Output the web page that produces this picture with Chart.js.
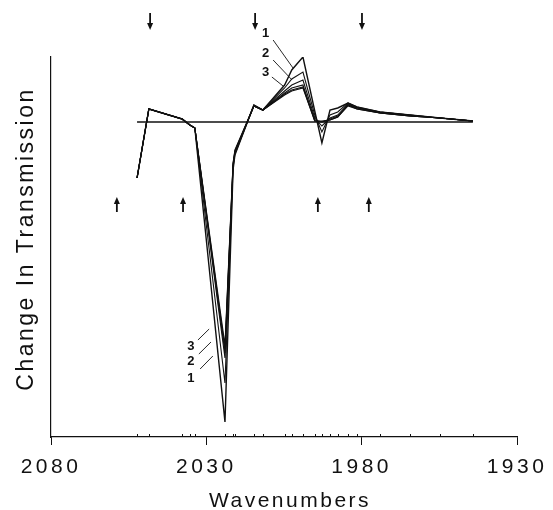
<!DOCTYPE html>
<html>
<head>
<meta charset="utf-8">
<script src="https://cdn.jsdelivr.net/npm/chart.js@4/dist/chart.umd.min.js"></script>
<style>
  body { margin: 0; background: #fff; }
  canvas { display: block; }
</style>
</head>
<body>
<canvas id="spectrum" width="553" height="510"></canvas>
<script>
// sampled wavenumbers (cm-1), shared by every difference spectrum
const wavenumbers = [2052.3, 2048.5, 2037.8, 2035.3, 2033.7, 2024.0, 2021.4, 2020.8, 2014.7, 2011.8,
    2004.8, 2002.5, 1998.9, 1995.1, 1992.8, 1990.2, 1987.7, 1984.4, 1981.5, 1974.1, 1964.5, 1954.8, 1944.2];

// change in transmission (arbitrary units), curve 1 is the largest
const curve1 = [-56, 13, 3, -3, -6, -300, -48, -33, 17, 12, 37, 52, 65, 11, -21, 12, 14, 19, 15, 10, 7, 4, 1];
const curve2 = [-56, 13, 3, -3, -6, -261, -46, -32, 17, 12, 34, 43, 50, 7, -10, 7, 10, 19, 15, 10, 7, 4, 1];
const curve3 = [-56, 13, 3, -3, -6, -236, -44, -31, 16, 12, 31, 37, 42, 4, -4, 4, 7, 18, 14, 10, 7, 4, 1];
const curve4 = [-56, 13, 3, -3, -6, -231, -43, -30, 16, 12, 29, 34, 37, 2, 0, 3, 6, 17, 14, 9, 6, 4, 1];
const curve5 = [-56, 13, 3, -3, -6, -227, -42, -29, 16, 12, 28, 32, 35, 1, 0, 2, 5, 17, 13, 9, 6, 4, 1];
const curve6 = [-56, 13, 3, -3, -6, -223, -41, -28, 16, 12, 27, 31, 34, 1, 1, 2, 5, 16, 13, 9, 6, 4, 1];

const baselineX = [2052.3, 1944.2];
const baselineY = [0, 0];

const xTicks = [2080, 2030, 1980, 1930];

// band markers
const arrowsDown = [2048.1, 2014.3, 1979.9];
const arrowsUp = [2058.8, 2037.5, 1994.1, 1977.7];

const curveLabels = ['1', '2', '3'];

function toPoints(xs, ys) {
    return xs.map((x, i) => ({ x: x, y: ys[i] }));
}

const curves = [curve1, curve2, curve3, curve4, curve5, curve6];
const datasets = curves.map((c, i) => ({
    label: 'Curve ' + (i + 1),
    data: toPoints(wavenumbers, c),
    borderColor: '#111',
    borderWidth: i === 0 ? 1.4 : 1.1,
    pointRadius: 0,
    tension: 0,
    fill: false
}));
datasets.push({
    label: 'Baseline',
    data: toPoints(baselineX, baselineY),
    borderColor: '#111',
    borderWidth: 1.6,
    pointRadius: 0,
    fill: false
});

// annotation layout in data coordinates
const notes = {
    top: { x: 2010.9, y: [89, 69, 50], lines: [[2008.5, 82, 2002.1, 54], [2008.5, 62, 2002.4, 42], [2008.9, 45, 2005.3, 36]] },
    bottom: { x: 2035.0, y: [-256, -239, -224], lines: [[2032.0, -247, 2027.9, -234], [2032.4, -232, 2028.5, -220], [2032.7, -218, 2029.1, -207]] }
};

function drawArrow(ctx, x, yTail, yTip) {
    const dir = yTip > yTail ? 1 : -1;
    ctx.beginPath();
    ctx.moveTo(x, yTail);
    ctx.lineTo(x, yTip - dir * 5);
    ctx.lineWidth = 1.8;
    ctx.stroke();
    ctx.beginPath();
    ctx.moveTo(x, yTip);
    ctx.lineTo(x - 3, yTip - dir * 7);
    ctx.lineTo(x + 3, yTip - dir * 7);
    ctx.closePath();
    ctx.fill();
}

const decorations = {
    id: 'decorations',
    beforeDraw(chart) {
        chart.ctx.letterSpacing = '3.5px';
    },
    beforeDatasetsDraw(chart) {
        chart.ctx.letterSpacing = '0px';
    },
    afterDraw(chart) {
        const ctx = chart.ctx;
        const xs = chart.scales.x;
        const ys = chart.scales.y;
        const area = chart.chartArea;
        ctx.save();
        ctx.strokeStyle = '#111';
        ctx.fillStyle = '#111';

        // small ticks at sampled points
        ctx.lineWidth = 1;
        wavenumbers.forEach(w => {
            const px = Math.round(xs.getPixelForValue(w)) + 0.5;
            ctx.beginPath();
            ctx.moveTo(px, area.bottom);
            ctx.lineTo(px, area.bottom - 3);
            ctx.stroke();
        });

        arrowsDown.forEach(w => drawArrow(ctx, xs.getPixelForValue(w), ys.getPixelForValue(109), ys.getPixelForValue(92)));
        arrowsUp.forEach(w => drawArrow(ctx, xs.getPixelForValue(w), ys.getPixelForValue(-90), ys.getPixelForValue(-75)));

        // curve numbers with pointer lines
        ctx.font = 'bold 13px "Liberation Sans", Arial, sans-serif';
        ctx.textAlign = 'center';
        ctx.textBaseline = 'middle';
        ctx.lineWidth = 0.9;
        [notes.top, notes.bottom].forEach(n => {
            curveLabels.forEach((t, i) => {
                ctx.fillText(t, xs.getPixelForValue(n.x), ys.getPixelForValue(n.y[i]));
                const l = n.lines[i];
                ctx.beginPath();
                ctx.moveTo(xs.getPixelForValue(l[0]), ys.getPixelForValue(l[1]));
                ctx.lineTo(xs.getPixelForValue(l[2]), ys.getPixelForValue(l[3]));
                ctx.stroke();
            });
        });

        // axis titles
        ctx.font = '21px "Liberation Sans", Arial, sans-serif';
        ctx.letterSpacing = '2.5px';
        ctx.fillText('Wavenumbers', (area.left + area.right) / 2 + 6, 501);
        ctx.translate(27, 239);
        ctx.rotate(-Math.PI / 2);
        ctx.font = '23px "Liberation Sans", Arial, sans-serif';
        ctx.fillText('Change In Transmission', 0, 0);
        ctx.restore();
        ctx.letterSpacing = '0px';
    }
};

new Chart(document.getElementById('spectrum'), {
    type: 'line',
    data: { datasets: datasets },
    plugins: [decorations],
    options: {
        responsive: false,
        animation: false,
        devicePixelRatio: 1,
        layout: { padding: { left: 51, right: 36, top: 57, bottom: 13 } },
        plugins: {
            legend: { display: false },
            tooltip: { enabled: false }
        },
        scales: {
            x: {
                type: 'linear',
                reverse: true,
                min: 1930,
                max: 2080,
                afterBuildTicks: scale => {
                    scale.ticks = xTicks.map(v => ({ value: v }));
                },
                afterFit: scale => { scale.height = 60; },
                ticks: {
                    color: '#111',
                    padding: 10,
                    maxRotation: 0,
                    autoSkip: false,
                    font: { family: '"Liberation Sans", Arial, sans-serif', size: 21 },
                    callback: v => String(v)
                },
                grid: { display: true, drawOnChartArea: false, drawTicks: true, tickLength: 8, color: '#111', lineWidth: 1 },
                border: { display: true, color: '#111', width: 1.2 }
            },
            y: {
                min: -315,
                max: 65,
                afterFit: scale => { scale.width = 0; },
                ticks: { display: false },
                grid: { display: false },
                border: { display: true, color: '#111', width: 1.2 }
            }
        }
    }
});
</script>
</body>
</html>
